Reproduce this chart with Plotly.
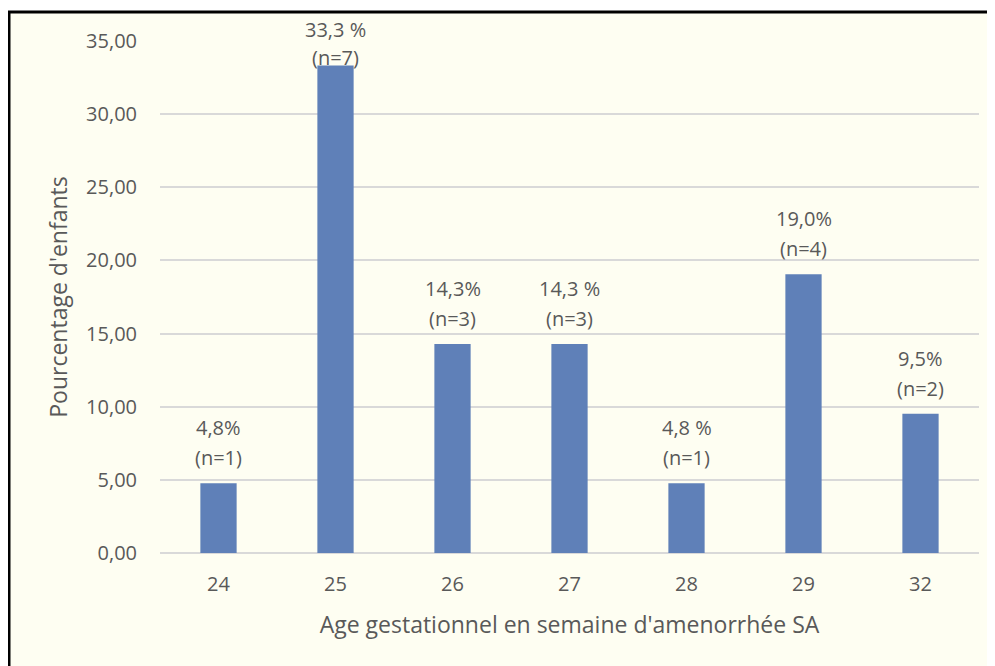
import plotly.graph_objects as go

semaines = ["24", "25", "26", "27", "28", "29", "32"]
pourcentages = [4.76, 33.33, 14.29, 14.29, 4.76, 19.05, 9.52]
etiq_pct = ["4,8%", "33,3 %", "14,3%", "14,3 %", "4,8 %", "19,0%", "9,5%"]
etiq_n = ["(n=1)", "(n=7)", "(n=3)", "(n=3)", "(n=1)", "(n=4)", "(n=2)"]
y_ticks = [0, 5, 10, 15, 20, 25, 30, 35]

GRIS = "#595959"
FONT = "Open Sans, Noto Sans, sans-serif"

fig = go.Figure(go.Bar(
    x=semaines, y=pourcentages,
    marker_color="#5F80B8",
    marker_line_width=0,
    width=0.31,
))

# two-line labels above bars (the tallest one is pushed down against the top of the plot, like Excel)
# annotation x uses the category index: numeric-looking strings would be read as indices
y_max = y_ticks[-1]
lab_font = dict(size=20, color=GRIS, family=FONT)
for i, (v, p, n) in enumerate(zip(pourcentages, etiq_pct, etiq_n)):
    if v > 30:
        fig.add_annotation(x=i, y=1, yref="paper", yanchor="middle", yshift=12,
                           text=p, showarrow=False, font=lab_font)
        fig.add_annotation(x=i, y=1, yref="paper", yanchor="middle", yshift=-16,
                           text=n, showarrow=False, font=lab_font)
    else:
        fig.add_annotation(x=i, y=v, yanchor="bottom", yshift=40,
                           text=p, showarrow=False, font=lab_font)
        fig.add_annotation(x=i, y=v, yanchor="bottom", yshift=10,
                           text=n, showarrow=False, font=lab_font)

# page body has an 8px margin, so figure coords are the reference minus 8
# plot area 152..971 x 33..545 px
L, R, T, B = 152, 24, 33, 121
pw, ph = 995 - L - R, 666 - T - B
fig.add_shape(type="rect", xref="paper", yref="paper", layer="below",
              x0=(1 - L) / pw, x1=(1010 - L) / pw,
              y0=-(700 - T - ph) / ph, y1=(T + ph - 4) / ph,
              fillcolor="#FEFEF2", line=dict(color="black", width=3))

fig.update_layout(
    width=995, height=666,
    margin=dict(l=L, r=R, t=T, b=B),
    paper_bgcolor="white",
    plot_bgcolor="rgba(0,0,0,0)",
    separators=", ",
    showlegend=False,
    font=dict(family=FONT, color=GRIS, size=20),
    xaxis=dict(
        type="category",
        range=[-0.5, len(semaines) - 0.5],
        title=dict(text="Age gestationnel en semaine d'amenorrhée SA", standoff=20,
                   font=dict(size=23, color=GRIS)),
        showgrid=False, showline=False, ticks="", ticklabelstandoff=17,
        tickfont=dict(size=20, color=GRIS),
    ),
    yaxis=dict(
        title=dict(text="Pourcentage d'enfants", standoff=12,
                   font=dict(size=23, color=GRIS)),
        range=[0, y_max], tickvals=y_ticks, tickformat=".2f",
        showgrid=True, gridcolor="#D9D9D9", gridwidth=1.5,
        zeroline=True, zerolinecolor="#D9D9D9", zerolinewidth=1.5,
        showline=False, ticks="", ticklabelstandoff=22,
        tickfont=dict(size=20, color=GRIS),
    ),
)

fig.write_html("out.html")
